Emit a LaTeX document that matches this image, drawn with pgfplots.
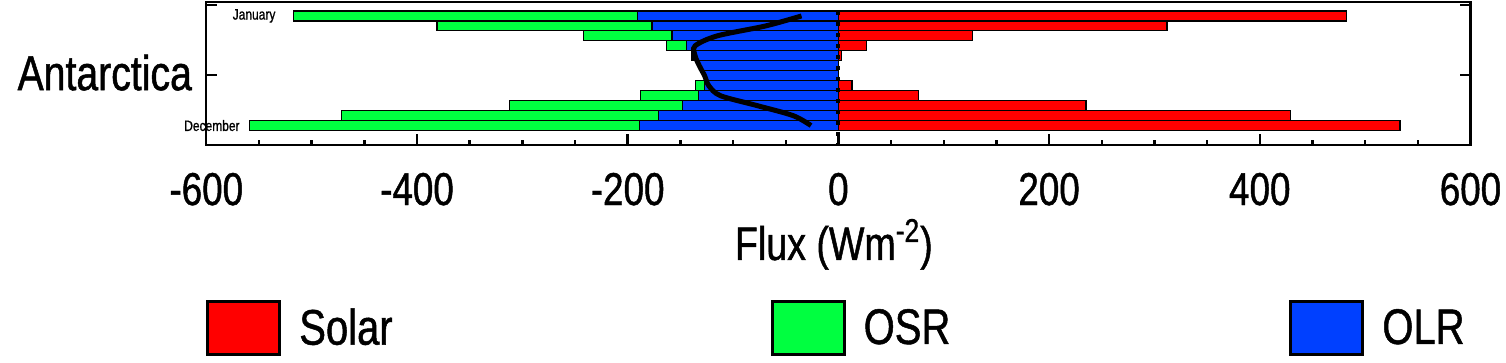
\documentclass[border=0pt]{standalone}
\usepackage{pgfplots}
\pgfplotsset{compat=1.18}
\usepackage{pgfplotstable}
\usepackage{fontspec}
\setmainfont{Liberation Sans}[FakeStretch=0.8, FakeBold=1]
\definecolor{solarred}{RGB}{255,0,0}
\definecolor{osrgreen}{RGB}{0,255,64}
\definecolor{olrblue}{RGB}{0,64,255}

\pgfplotstableread{
Month Solar OSR OLR Net
1 482 -326 -191 -35
2 312 -204 -177 -69
3 127 -84 -158 -115
4 27 -19 -144 -136
5 3 -1.5 -137.5 -136
6 0 0 -132 -132
7 0 0 -127 -127
8 13 -9 -127 -123
9 76 -55 -133 -112
10 235 -164 -148 -77
11 429 -301 -171 -43
12 533 -370 -189 -26
}\fluxdata

\begin{document}
\begin{tikzpicture}
\useasboundingbox (-103.15pt,-109pt) rectangle (649.85pt,72.5pt);
\begin{axis}[
  at={(0pt,0pt)}, anchor=south west,
  width=632.1pt, height=71.5pt, scale only axis,
  xmin=-600, xmax=600, ymin=-0.4, ymax=13.95, y dir=reverse,
  clip=false,
  xtick={-600,-400,-200,0,200,400,600},
  xticklabels={-600,-400,-200,0,200,400,600},
  minor x tick num=3,
  ytick={-0.1,6.93}, yticklabels={,Antarctica},
  tick align=inside, xtick pos=bottom,
  major tick length=5.5pt, minor tick length=2.5pt,
  axis line style={line width=1.2pt},
  tick style={black, line width=1.2pt},
  xticklabel style={font=\fontsize{23}{23}\selectfont, anchor=base, yshift=-30pt, inner sep=0pt},
  yticklabel style={font=\fontsize{24.5}{24.5}\selectfont, anchor=east, inner sep=0pt, xshift=-7pt, yshift=1.2pt},
  xlabel={Flux (Wm\textsuperscript{-2})},
  xlabel style={font=\fontsize{23.5}{23.5}\selectfont, at={(axis description cs:0.4964,-0.804)}, anchor=base, inner sep=0pt},
  legend columns=3,
  legend cell align=left,
  legend style={at={(axis description cs:0,-1.084)}, anchor=north west, draw=none, fill=none, inner sep=0pt, outer sep=0pt,
    font=\fontsize{25}{25}\selectfont,
    nodes={inner sep=0pt},
    /tikz/every odd column/.style={column sep=9pt},
    /tikz/column 2/.style={column sep=189pt},
    /tikz/column 4/.style={column sep=169.5pt}},
]
\addplot[xbar, bar shift=0pt, bar width=1, fill=solarred, draw=black, line width=0.6pt,
  legend image code/.code={\draw[fill=solarred, draw=black, line width=1.5pt] (0pt,-13.25pt) rectangle (36pt,13.25pt);}]
  table[x=Solar, y=Month] {\fluxdata};
\addlegendentry{Solar}
\addplot[xbar, bar shift=0pt, bar width=1, fill=osrgreen, draw=black, line width=0.6pt,
  legend image code/.code={\draw[fill=osrgreen, draw=black, line width=1.5pt] (0pt,-13.25pt) rectangle (36pt,13.25pt);}]
  table[x expr=\thisrow{OSR}+\thisrow{OLR}, y=Month] {\fluxdata};
\addlegendentry{OSR}
\addplot[xbar, bar shift=0pt, bar width=1, fill=olrblue, draw=black, line width=0.6pt,
  legend image code/.code={\draw[fill=olrblue, draw=black, line width=1.5pt] (0pt,-13.25pt) rectangle (36pt,13.25pt);}]
  table[x=OLR, y=Month] {\fluxdata};
\addlegendentry{OLR}
\addplot[forget plot, black, line width=2pt, dash pattern=on 2pt off 3.5pt] coordinates {(0,0.5) (0,13.95)};
\addplot[forget plot, smooth, black, line width=2.5pt] table[x=Net, y=Month] {\fluxdata};
\node[anchor=east, inner sep=0pt, font=\fontsize{7.5}{7.5}\selectfont] at (axis cs:-534,1) {January};
\node[anchor=east, inner sep=0pt, font=\fontsize{7.5}{7.5}\selectfont] at (axis cs:-568,12) {December};
\end{axis}
\end{tikzpicture}
\end{document}
